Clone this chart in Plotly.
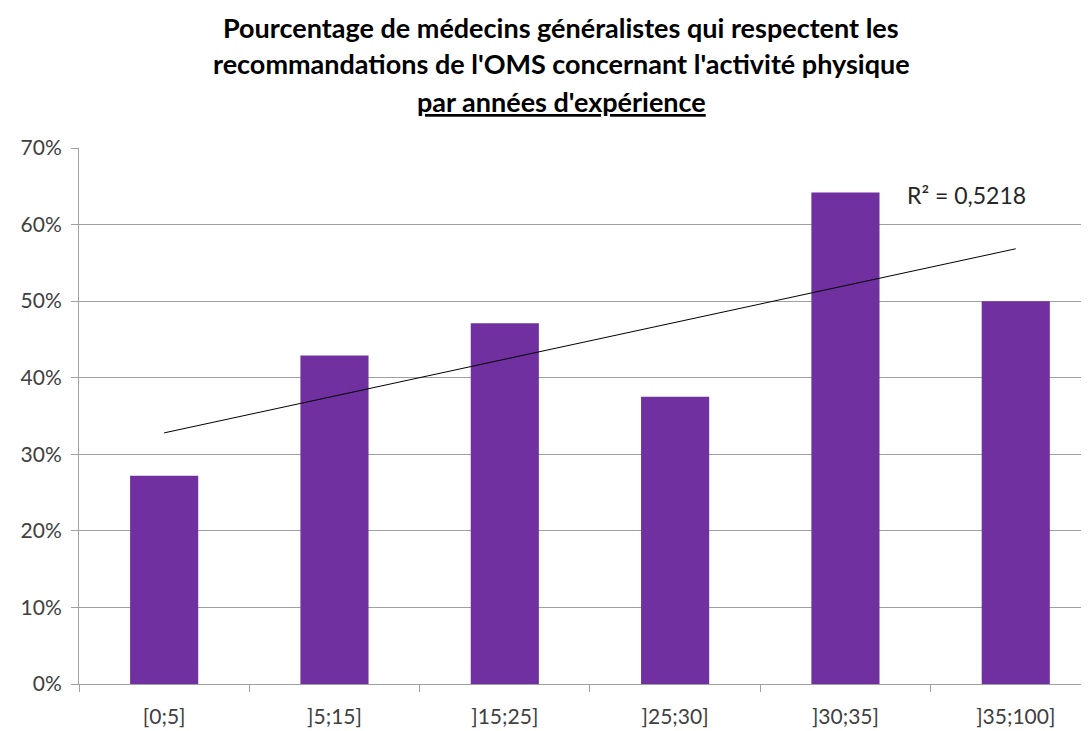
import numpy as np
import plotly.graph_objects as go

categories = ["[0;5]", "]5;15]", "]15;25]", "]25;30]", "]30;35]", "]35;100]"]
values = [0.272, 0.429, 0.471, 0.375, 0.642, 0.500]
y_tickvals = [0, 0.1, 0.2, 0.3, 0.4, 0.5, 0.6, 0.7]
y_ticktext = ["0%", "10%", "20%", "30%", "40%", "50%", "60%", "70%"]
r2_label = "R² = 0,5218"
title_lines = [
    "Pourcentage de médecins généralistes qui respectent les",
    "recommandations de l'OMS concernant l'activité physique",
    "<u>par années d'expérience</u>",
]

# linear trendline (as in the spreadsheet) derived from the data
xi = np.arange(1, len(values) + 1)
slope, intercept = np.polyfit(xi, values, 1)
trend = slope * xi + intercept

OFF = 8  # page body margin
W, H = 1089 - OFF, 731 - OFF
L, R, T, B = 79 - OFF, 0, 148 - OFF, 731 - 684
FONT = "Lato, Carlito, Calibri, 'Noto Sans', sans-serif"

fig = go.Figure()
fig.add_trace(go.Bar(
    x=categories, y=values, width=0.4,
    marker=dict(color="#7030A0", line=dict(width=0)),
    showlegend=False,
))
fig.add_trace(go.Scatter(
    x=categories, y=trend, mode="lines",
    line=dict(color="#000000", width=1),
    showlegend=False,
))

fig.add_annotation(
    x=4.35, y=0.639, xref="x", yref="y", text=r2_label, showarrow=False,
    xanchor="left", yanchor="middle",
    font=dict(family=FONT, size=23, color="#262626"),
)

title_y = [27, 64, 101]
for line, ypx in zip(title_lines, title_y):
    fig.add_annotation(
        x=(561 - OFF - L) / (W - L - R), y=1 + (T - (ypx - OFF)) / (H - T - B),
        xref="paper", yref="paper", text=f"<b>{line}</b>", showarrow=False,
        xanchor="center", yanchor="middle",
        font=dict(family=FONT, size=27, color="#000000"),
    )

fig.update_layout(
    width=W, height=H,
    margin=dict(l=L, r=R, t=T, b=B, pad=0),
    plot_bgcolor="#FFFFFF", paper_bgcolor="#FFFFFF",
    font=dict(family=FONT, size=21, color="#404040"),
    bargap=0.6,
)
fig.update_xaxes(
    type="category", range=[-0.5, 5.43],
    showline=True, linecolor="#A0A0A0", linewidth=1,
    ticks="outside", ticklen=7, tickcolor="#A0A0A0", tickson="boundaries",
    showgrid=False, ticklabelstandoff=14,
    tickfont=dict(family=FONT, size=21, color="#404040"),
)
fig.update_yaxes(
    range=[0, 0.70], tickvals=y_tickvals, ticktext=y_ticktext,
    showline=True, linecolor="#A0A0A0", linewidth=1,
    ticks="outside", ticklen=7, tickcolor="#A0A0A0",
    showgrid=True, gridcolor="#A0A0A0", gridwidth=1,
    zeroline=False, ticklabelstandoff=5,
    tickfont=dict(family=FONT, size=21, color="#404040"),
)

fig.write_html("out.html")
